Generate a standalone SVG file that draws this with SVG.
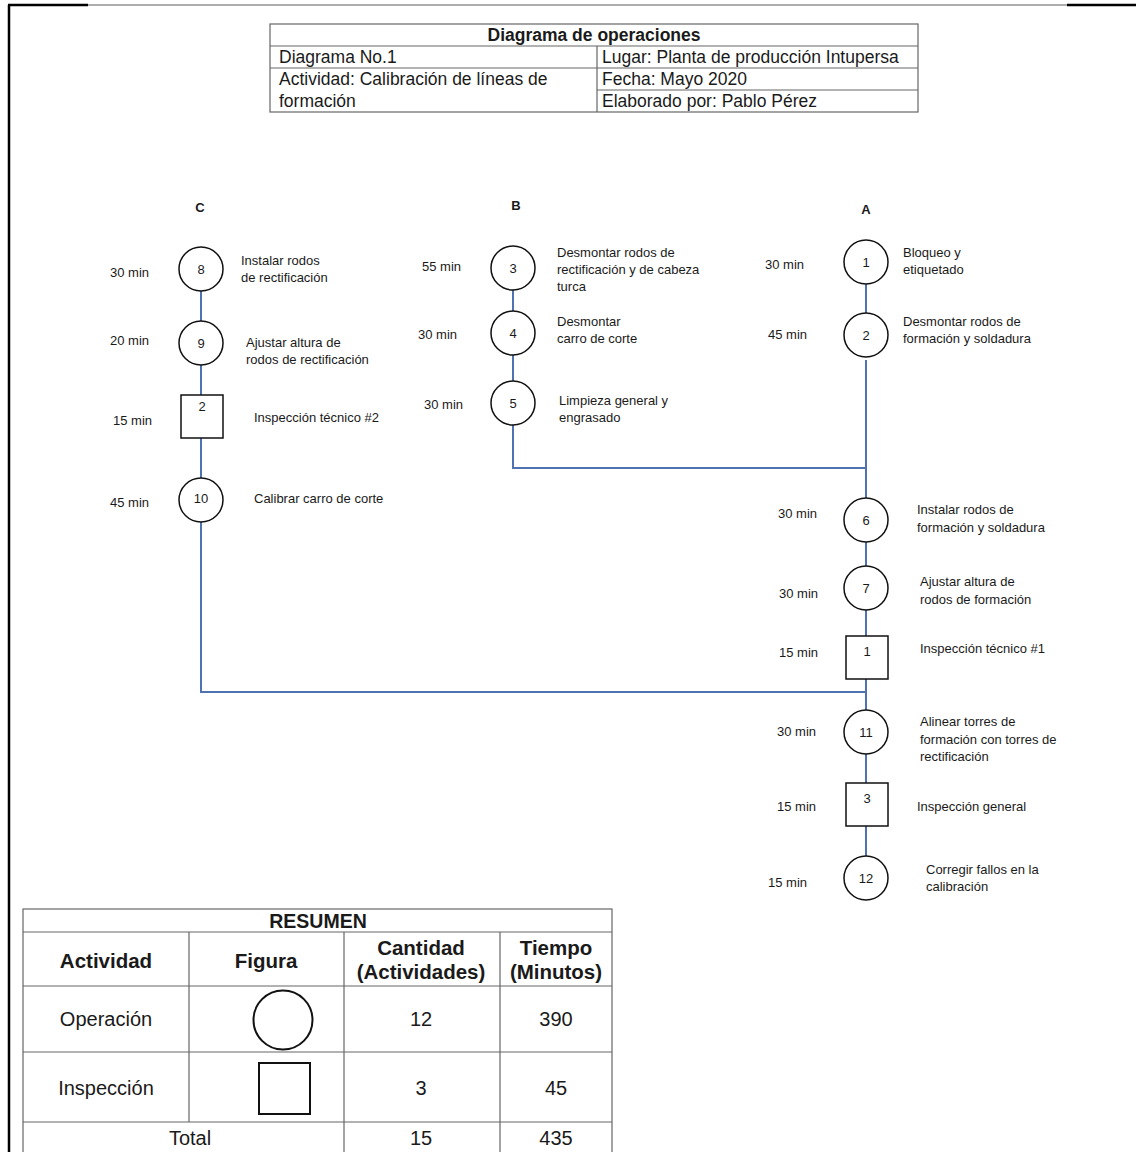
<svg xmlns="http://www.w3.org/2000/svg" width="1136" height="1152" viewBox="0 0 1136 1152">
<style>
text{font-family:"Liberation Sans",Arial,sans-serif;fill:#1a1a1a}
.lbl{font-size:13px}
.num{font-size:13px;text-anchor:middle}
.hd{font-size:13px;font-weight:bold;text-anchor:middle}
.node{fill:#fff;stroke:#111;stroke-width:1.5}
.conn{stroke:#4f72b0;stroke-width:2;fill:none}
.tb{fill:none;stroke:#666;stroke-width:1.2}
.t16{font-size:17.5px}
.t19{font-size:20px;text-anchor:middle}
.b19{font-size:20.5px;font-weight:bold;text-anchor:middle}
</style>
<rect width="1136" height="1152" fill="#fff"/>
<g id="frame">
<line x1="9" y1="5" x2="9" y2="1152" stroke="#000" stroke-width="2.5"/>
<line x1="8" y1="5" x2="88" y2="5" stroke="#000" stroke-width="2.5"/>
<line x1="88" y1="5" x2="1067" y2="5" stroke="#333" stroke-width="0.8"/>
<line x1="1067" y1="5" x2="1136" y2="5" stroke="#000" stroke-width="2.5"/>
</g>
<g id="header-table">
<rect class="tb" x="270" y="24" width="648" height="88"/>
<line class="tb" x1="270" y1="46" x2="918" y2="46"/>
<line class="tb" x1="270" y1="68" x2="918" y2="68"/>
<line class="tb" x1="597" y1="90" x2="918" y2="90"/>
<line class="tb" x1="597" y1="46" x2="597" y2="112"/>
<text class="t16" x="594" y="41" text-anchor="middle" font-weight="bold">Diagrama de operaciones</text>
<text class="t16" x="279" y="63">Diagrama No.1</text>
<text class="t16" x="279" y="85">Actividad: Calibración de líneas de</text>
<text class="t16" x="279" y="107">formación</text>
<text class="t16" x="602" y="63">Lugar: Planta de producción Intupersa</text>
<text class="t16" x="602" y="85">Fecha: Mayo 2020</text>
<text class="t16" x="602" y="107">Elaborado por: Pablo Pérez</text>
</g>
<g id="connectors">
<path class="conn" d="M201 291V321M201 365V395M201 438V478M201 522V692H866"/>
<path class="conn" d="M513 290V311M513 355V381M513 425V468H866"/>
<path class="conn" d="M866 284V313M866 360V498M866 542V566M866 610V636M866 679V710M866 754V783M866 826V856"/>
</g>
<g id="headers">
<text class="hd" x="200" y="212">C</text>
<text class="hd" x="516" y="210">B</text>
<text class="hd" x="866" y="214">A</text>
</g>
<g id="op8"><circle class="node" cx="201" cy="269" r="22"/><text class="num" x="201" y="274">8</text>
<text class="lbl" x="110" y="277">30 min</text><text class="lbl" x="241" y="265">Instalar rodos</text><text class="lbl" x="241" y="282">de rectificación</text></g>
<g id="op9"><circle class="node" cx="201" cy="343" r="22"/><text class="num" x="201" y="348">9</text>
<text class="lbl" x="110" y="345">20 min</text><text class="lbl" x="246" y="347">Ajustar altura de</text><text class="lbl" x="246" y="364">rodos de rectificación</text></g>
<g id="insp2"><rect class="node" x="181" y="395" width="42" height="43"/><text class="num" x="202" y="411">2</text>
<text class="lbl" x="113" y="425">15 min</text><text class="lbl" x="254" y="422">Inspección técnico #2</text></g>
<g id="op10"><circle class="node" cx="201" cy="500" r="22"/><text class="num" x="201" y="503">10</text>
<text class="lbl" x="110" y="507">45 min</text><text class="lbl" x="254" y="503">Calibrar carro de corte</text></g>
<g id="op3"><circle class="node" cx="513" cy="268" r="22"/><text class="num" x="513" y="273">3</text>
<text class="lbl" x="422" y="271">55 min</text><text class="lbl" x="557" y="257">Desmontar rodos de</text><text class="lbl" x="557" y="274">rectificación y de cabeza</text><text class="lbl" x="557" y="291">turca</text></g>
<g id="op4"><circle class="node" cx="513" cy="333" r="22"/><text class="num" x="513" y="338">4</text>
<text class="lbl" x="418" y="339">30 min</text><text class="lbl" x="557" y="326">Desmontar</text><text class="lbl" x="557" y="343">carro de corte</text></g>
<g id="op5"><circle class="node" cx="513" cy="403" r="22"/><text class="num" x="513" y="408">5</text>
<text class="lbl" x="424" y="409">30 min</text><text class="lbl" x="559" y="405">Limpieza general y</text><text class="lbl" x="559" y="422">engrasado</text></g>
<g id="op1"><circle class="node" cx="866" cy="262" r="22"/><text class="num" x="866" y="267">1</text>
<text class="lbl" x="765" y="269">30 min</text><text class="lbl" x="903" y="257">Bloqueo y</text><text class="lbl" x="903" y="274">etiquetado</text></g>
<g id="op2"><circle class="node" cx="866" cy="335" r="22"/><text class="num" x="866" y="340">2</text>
<text class="lbl" x="768" y="339">45 min</text><text class="lbl" x="903" y="326">Desmontar rodos de</text><text class="lbl" x="903" y="343">formación y soldadura</text></g>
<g id="op6"><circle class="node" cx="866" cy="520" r="22"/><text class="num" x="866" y="525">6</text>
<text class="lbl" x="778" y="518">30 min</text><text class="lbl" x="917" y="514">Instalar rodos de</text><text class="lbl" x="917" y="532">formación y soldadura</text></g>
<g id="op7"><circle class="node" cx="866" cy="588" r="22"/><text class="num" x="866" y="593">7</text>
<text class="lbl" x="779" y="598">30 min</text><text class="lbl" x="920" y="586">Ajustar altura de</text><text class="lbl" x="920" y="604">rodos de formación</text></g>
<g id="insp1"><rect class="node" x="846" y="636" width="42" height="43"/><text class="num" x="867" y="656">1</text>
<text class="lbl" x="779" y="657">15 min</text><text class="lbl" x="920" y="653">Inspección técnico #1</text></g>
<g id="op11"><circle class="node" cx="866" cy="732" r="22"/><text class="num" x="866" y="737">11</text>
<text class="lbl" x="777" y="736">30 min</text><text class="lbl" x="920" y="726">Alinear torres de</text><text class="lbl" x="920" y="744">formación con torres de</text><text class="lbl" x="920" y="761">rectificación</text></g>
<g id="insp3"><rect class="node" x="846" y="783" width="42" height="43"/><text class="num" x="867" y="803">3</text>
<text class="lbl" x="777" y="811">15 min</text><text class="lbl" x="917" y="811">Inspección general</text></g>
<g id="op12"><circle class="node" cx="866" cy="878" r="22"/><text class="num" x="866" y="883">12</text>
<text class="lbl" x="768" y="887">15 min</text><text class="lbl" x="926" y="874">Corregir fallos en la</text><text class="lbl" x="926" y="891">calibración</text></g>
<g id="summary-table">
<rect class="tb" x="23" y="909" width="589" height="250"/>
<line class="tb" x1="23" y1="932" x2="612" y2="932"/>
<line class="tb" x1="23" y1="986" x2="612" y2="986"/>
<line class="tb" x1="23" y1="1052" x2="612" y2="1052"/>
<line class="tb" x1="23" y1="1122" x2="612" y2="1122" stroke="#222"/>
<line class="tb" x1="189" y1="932" x2="189" y2="1122"/>
<line class="tb" x1="344" y1="932" x2="344" y2="1152"/>
<line class="tb" x1="500" y1="932" x2="500" y2="1152"/>
<text x="318" y="928" font-size="19.5" font-weight="bold" text-anchor="middle">RESUMEN</text>
<text class="b19" x="106" y="968">Actividad</text>
<text class="b19" x="266" y="968">Figura</text>
<text class="b19" x="421" y="955">Cantidad</text>
<text class="b19" x="421" y="979">(Actividades)</text>
<text class="b19" x="556" y="955">Tiempo</text>
<text class="b19" x="556" y="979">(Minutos)</text>
<text class="t19" x="106" y="1026">Operación</text>
<circle cx="283" cy="1020" r="29.5" fill="none" stroke="#111" stroke-width="2"/>
<text class="t19" x="421" y="1026">12</text>
<text class="t19" x="556" y="1026">390</text>
<text class="t19" x="106" y="1095">Inspección</text>
<rect x="259" y="1063" width="51" height="51" fill="none" stroke="#111" stroke-width="2"/>
<text class="t19" x="421" y="1095">3</text>
<text class="t19" x="556" y="1095">45</text>
<text class="t19" x="190" y="1145">Total</text>
<text class="t19" x="421" y="1145">15</text>
<text class="t19" x="556" y="1145">435</text>
</g>
</svg>
